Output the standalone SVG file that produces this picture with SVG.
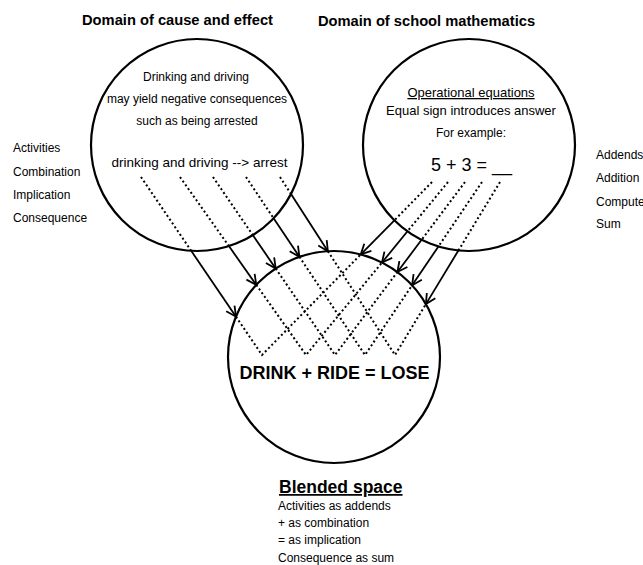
<svg xmlns="http://www.w3.org/2000/svg" width="643" height="565" viewBox="0 0 643 565">
<style>
  text { font-family: "Liberation Sans", Arial, sans-serif; fill: #000; }
  .title { font-size: 14.7px; font-weight: bold; }
  .t12 { font-size: 12px; }
  .t13 { font-size: 13px; }
  .mid { text-anchor: middle; }
  .ring { fill: none; stroke: #000; stroke-width: 2.2; }
  .dot { fill: none; stroke: #000; stroke-width: 2; stroke-dasharray: 2 2.6; }
  .arrow { fill: none; stroke: #000; stroke-width: 1.8; marker-end: url(#arr); }
</style>
<defs>
  <marker id="arr" viewBox="0 0 12 12" refX="11" refY="6" markerWidth="12" markerHeight="12" markerUnits="userSpaceOnUse" orient="auto">
    <path d="M1,1 L11,6 L1,11" fill="none" stroke="#000" stroke-width="1.8"/>
  </marker>
</defs>
<rect width="643" height="565" fill="#fff"/>

<g id="cause-domain">
  <circle class="ring" cx="197" cy="145" r="106"/>
  <text class="title mid" x="177.5" y="25">Domain of cause and effect</text>
  <text class="t12 mid" x="196" y="81">Drinking and driving</text>
  <text class="t12 mid" x="197" y="103">may yield negative consequences</text>
  <text class="t12 mid" x="197" y="125">such as being arrested</text>
  <text class="mid" style="font-size:13.5px" x="199.5" y="167">drinking and driving --&gt; arrest</text>
</g>

<g id="cause-labels">
  <text class="t12" x="13" y="152">Activities</text>
  <text class="t12" x="13" y="175.5">Combination</text>
  <text class="t12" x="13" y="198.5">Implication</text>
  <text class="t12" x="13" y="222">Consequence</text>
</g>

<g id="math-domain">
  <circle class="ring" cx="469" cy="145" r="106"/>
  <text class="title mid" x="426.5" y="26">Domain of school mathematics</text>
  <text class="t13 mid" x="471" y="97" text-decoration="underline">Operational equations</text>
  <text class="t13 mid" x="471" y="115">Equal sign introduces answer</text>
  <text class="t12 mid" x="471" y="137">For example:</text>
  <text class="mid" style="font-size:18px" x="471.5" y="171">5 + 3 = __</text>
</g>

<g id="math-labels">
  <text class="t12" x="596" y="158.5">Addends</text>
  <text class="t12" x="596" y="182">Addition</text>
  <text class="t12" x="596" y="205.5">Compute</text>
  <text class="t12" x="596" y="228">Sum</text>
</g>

<g id="blended-space">
  <circle class="ring" cx="334" cy="357" r="106"/>
  <text class="mid" style="font-size:18px;font-weight:bold" x="334.5" y="379">DRINK + RIDE = LOSE</text>
</g>

<g id="blended-legend">
  <text style="font-size:17.5px;font-weight:bold" x="279" y="493" text-decoration="underline">Blended space</text>
  <text class="t12" x="278" y="510">Activities as addends</text>
  <text class="t12" x="278" y="527">+ as combination</text>
  <text class="t12" x="278" y="544">= as implication</text>
  <text class="t12" x="278" y="561.5">Consequence as sum</text>
</g>

<g id="connectors">
  <!-- dotted inside cause circle -->
  <path class="dot" d="M141,177 L191.2,250.8"/>
  <path class="dot" d="M180,177 L228.9,246.1"/>
  <path class="dot" d="M213,177 L252.8,235.1"/>
  <path class="dot" d="M246,177 L273.6,218.3"/>
  <path class="dot" d="M280,177 L291,194"/>
  <!-- dotted inside math circle -->
  <path class="dot" d="M432,182 L394.4,220.3"/>
  <path class="dot" d="M448,182 L407.5,231.3"/>
  <path class="dot" d="M465,182 L421.6,239.8"/>
  <path class="dot" d="M482,182 L438.4,246.5"/>
  <path class="dot" d="M500,182 L458.4,250.5"/>
  <!-- solid arrows between circles -->
  <path class="arrow" d="M191.2,250.8 L236,316.7"/>
  <path class="arrow" d="M228.9,246.1 L256.3,284.9"/>
  <path class="arrow" d="M252.8,235.1 L275.7,268.5"/>
  <path class="arrow" d="M273.6,218.3 L299.4,256.8"/>
  <path class="arrow" d="M291,194 L327.9,251.2"/>
  <path class="arrow" d="M394.4,220.3 L360.8,254.4"/>
  <path class="arrow" d="M407.5,231.3 L382,262.5"/>
  <path class="arrow" d="M421.6,239.8 L397.4,272"/>
  <path class="arrow" d="M438.4,246.5 L412.1,285.3"/>
  <path class="arrow" d="M458.4,250.5 L425.9,304.1"/>
  <!-- dotted V's inside blended circle -->
  <path class="dot" d="M236,316.7 L262,355 L360.8,254.4"/>
  <path class="dot" d="M256.3,284.9 L306,355 L382,262.5"/>
  <path class="dot" d="M275.7,268.5 L335,355 L397.4,272"/>
  <path class="dot" d="M299.4,256.8 L365,355 L412.1,285.3"/>
  <path class="dot" d="M327.9,251.2 L395,355 L425.9,304.1"/>
</g>
</svg>
